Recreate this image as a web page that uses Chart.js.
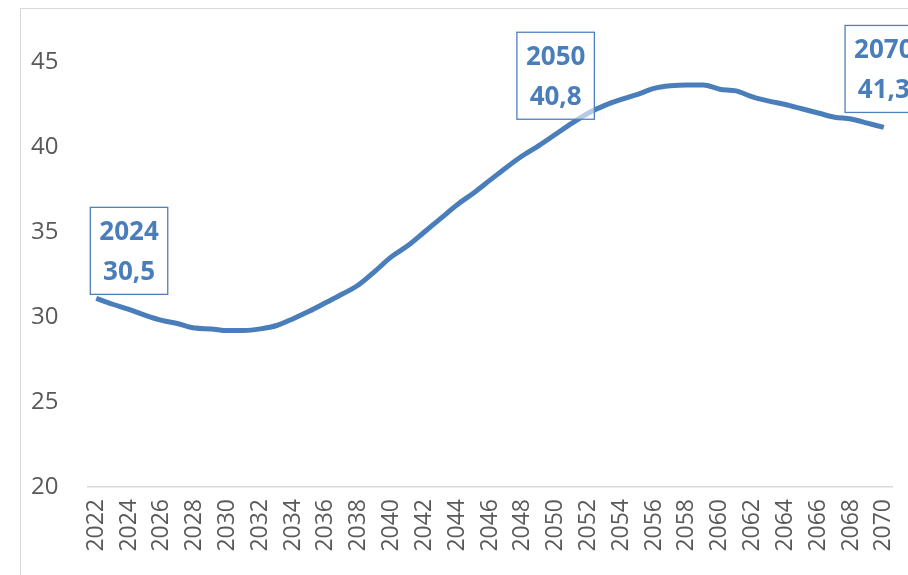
<!DOCTYPE html>
<html>
<head>
<meta charset="utf-8">
<script src="https://cdn.jsdelivr.net/npm/chart.js@4/dist/chart.umd.min.js"></script>
<style>
  html, body { margin: 0; padding: 0; background: #fff; width: 908px; height: 575px; overflow: hidden; }
  #wrap { position: absolute; left: 20px; top: 8px; width: 900px; height: 600px; border: 1px solid #d9d9d9; }
</style>
</head>
<body>
<div id="wrap"><canvas id="myChart" width="900" height="600"></canvas></div>
<script>
// years 2022..2070
const years = [
  "2022","2023","2024","2025","2026","2027","2028","2029","2030","2031",
  "2032","2033","2034","2035","2036","2037","2038","2039","2040","2041",
  "2042","2043","2044","2045","2046","2047","2048","2049","2050","2051",
  "2052","2053","2054","2055","2056","2057","2058","2059","2060","2061",
  "2062","2063","2064","2065","2066","2067","2068","2069","2070"
];
const values = [
  31.1, 30.75, 30.45, 30.1, 29.8, 29.6, 29.35, 29.3, 29.2, 29.2,
  29.3, 29.5, 29.9, 30.35, 30.85, 31.35, 31.9, 32.7, 33.55, 34.2,
  35.0, 35.8, 36.6, 37.3, 38.05, 38.8, 39.5, 40.1, 40.75, 41.4,
  42.0, 42.45, 42.8, 43.1, 43.45, 43.6, 43.65, 43.65, 43.4, 43.3,
  42.95, 42.7, 42.5, 42.25, 42.0, 41.75, 41.65, 41.4, 41.15
];
const yTicks = [20, 25, 30, 35, 40, 45];

// callout boxes
const noteYears = ["2024", "2050", "2070"];
const noteTexts = ["30,5", "40,8", "41,3"];

const blue = "#4a7ebb";

const calloutPlugin = {
  id: "callouts",
  afterDatasetsDraw(chart) {
    const ctx = chart.ctx;
    const xs = chart.scales.x, ys = chart.scales.y;
    ctx.save();
    ctx.font = "bold 26px 'Open Sans'";
    ctx.textAlign = "center";
    ctx.textBaseline = "middle";
    noteYears.forEach((yr, i) => {
      const idx = years.indexOf(yr);
      const px = xs.getPixelForValue(idx);
      const py = ys.getPixelForValue(values[idx]);
      const w = Math.max(ctx.measureText(yr).width, ctx.measureText(noteTexts[i]).width) + 18;
      const h = 87;
      const bottom = py - 15;
      const top = bottom - h;
      ctx.fillStyle = "rgba(255,255,255,0.6)";
      ctx.fillRect(px - w / 2, top, w, h);
      ctx.strokeStyle = "#4f81bd";
      ctx.lineWidth = 1.3;
      ctx.strokeRect(px - w / 2, top, w, h);
      ctx.fillStyle = blue;
      ctx.fillText(yr, px, top + 25);
      ctx.fillText(noteTexts[i], px, top + 65);
    });
    ctx.restore();
  }
};

const ctx = document.getElementById("myChart").getContext("2d");
const chart = new Chart(ctx, {
  type: "line",
  data: {
    labels: years,
    datasets: [{
      data: values,
      borderColor: blue,
      borderWidth: 5,
      pointRadius: 0,
      tension: 0.4,
      cubicInterpolationMode: "monotone",
      fill: false
    }]
  },
  options: {
    responsive: false,
    animation: false,
    layout: { padding: { top: 2, right: 29, left: 10, bottom: 0 } },
    plugins: { legend: { display: false }, tooltip: { enabled: false } },
    scales: {
      x: {
        offset: true,
        grid: { display: false },
        border: { display: true, color: "#d9d9d9", width: 1.5 },
        ticks: {
          autoSkip: false,
          maxRotation: 90,
          minRotation: 90,
          padding: 4,
          color: "#595959",
          font: { family: "'Open Sans'", size: 23 },
          callback: (v, i) => (i % 2 === 0 ? years[i] : "")
        },
        afterFit: s => { s.height = 122; }
      },
      y: {
        min: 20,
        max: 48,
        grid: { display: false },
        border: { display: false },
        afterBuildTicks: s => { s.ticks = yTicks.map(v => ({ value: v })); },
        ticks: {
          padding: 3,
          crossAlign: "far",
          color: "#595959",
          font: { family: "'Open Sans'", size: 24 }
        },
        afterFit: s => { s.width = 57; s.paddingTop = 0; }
      }
    }
  },
  plugins: [calloutPlugin]
});
</script>
</body>
</html>
